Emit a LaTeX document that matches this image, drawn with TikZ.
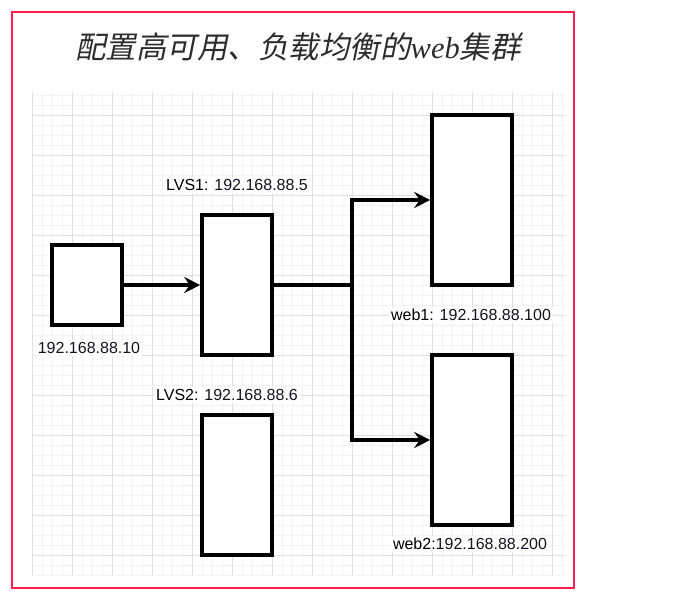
\documentclass[tikz,border=0pt]{standalone}
\usepackage{fontspec}
\usepackage{tikz}
\usepackage{xcolor}
\usetikzlibrary{arrows.meta,positioning}
\setmainfont{Liberation Sans}
\newfontfamily\cjktitle[FakeSlant=0.2]{Noto Sans CJK SC}
\newfontfamily\serifit{Liberation Serif}
\definecolor{frame}{RGB}{255,32,80}
\definecolor{ttl}{RGB}{45,45,45}
\definecolor{ipc}{RGB}{20,20,30}

\begin{document}
\begin{tikzpicture}[x=1pt,y=-1pt,font=\fontsize{16}{18}\selectfont,
  box/.style={draw,line width=3.6pt,fill=white,inner sep=0pt},
  lbl/.style={fill=white,inner sep=2pt,text=black},
  link/.style={-{Stealth[length=16pt,width=16pt,inset=5.5pt]},line width=3.4pt},
  wire/.style={line width=3.4pt},
  minorline/.style={draw=black!5,line width=0.6pt},
  majorline/.style={draw=black!12,line width=0.8pt}]
  \useasboundingbox (0,0) rectangle (695,594);
  % grid
  \foreach \gx in {32,42,...,562} \draw[minorline] (\gx,92) -- (\gx,575);
  \foreach \gy in {95,105,...,575} \draw[minorline] (32,\gy) -- (565,\gy);
  \foreach \gx in {32,72,...,552} \draw[majorline] (\gx,92) -- (\gx,575);
  \foreach \gy in {115,155,...,575} \draw[majorline] (32,\gy) -- (565,\gy);
  % frame and title
  \draw[frame,line width=2.5pt] (12,12) rectangle (574,588);
  \node[text=ttl,font=\fontsize{30.5}{33}\selectfont] (title) at (298,47)
    {\cjktitle 配置高可用、负载均衡的{\serifit\itshape web}集群};
  % machines
  \node[box,minimum width=70,minimum height=80] (client) at (87,285) {};
  \node[box,minimum width=70,minimum height=140] (lvs1) at (237,285) {};
  \node[box,minimum width=70,minimum height=140] (lvs2) at (237,485) {};
  \node[box,minimum width=80,minimum height=170] (web1) at (472,200) {};
  \node[box,minimum width=80,minimum height=170] (web2) at (472,440) {};
  \coordinate (split) at (352,285);
  % labels
  \node[lbl] (clientlbl) at (89,348) {\textcolor{ipc}{192.168.88.10}};
  \node[lbl] (lvs1lbl) at (237,185) {LVS1: \textcolor{ipc}{192.168.88.5}};
  \node[lbl] (lvs2lbl) at (227,395) {LVS2: \textcolor{ipc}{192.168.88.6}};
  \node[lbl] (web1lbl) at (471,315) {web1: \textcolor{ipc}{192.168.88.100}};
  \node[lbl] (web2lbl) at (470,544) {web2:\textcolor{ipc}{192.168.88.200}};
  % connectors
  \draw[link] (client) -- (lvs1);
  \draw[wire] (lvs1) -- (split);
  \draw[link] (split) |- (web1);
  \draw[link] (split) |- (web2);
\end{tikzpicture}
\end{document}
